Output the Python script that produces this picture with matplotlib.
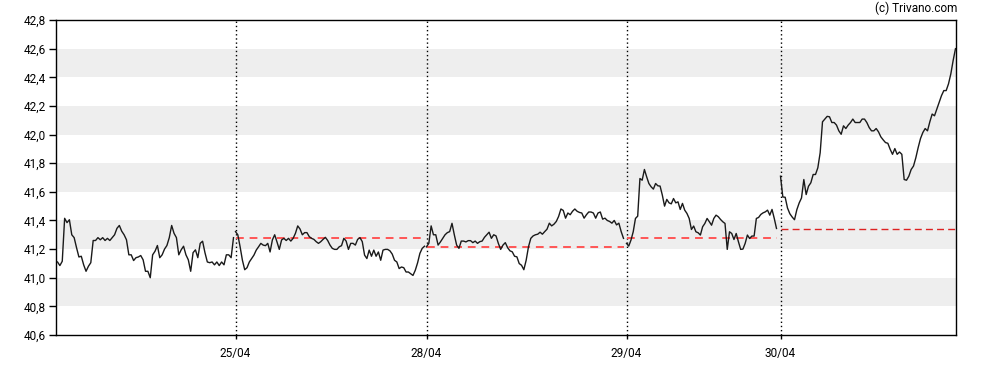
import numpy as np
import matplotlib.pyplot as plt

plt.rcParams['font.family'] = ['Roboto', 'DejaVu Sans']

# koersen per handelsdag
day1 = [41.11, 41.085, 41.115, 41.415, 41.385, 41.405, 41.30, 41.28, 41.21, 41.145,
        41.15, 41.09, 41.045, 41.08, 41.105, 41.26, 41.26, 41.28, 41.265, 41.28,
        41.26, 41.275, 41.26, 41.28, 41.30, 41.345, 41.365, 41.325, 41.30, 41.265,
        41.16, 41.16, 41.12, 41.14, 41.145, 41.155, 41.125, 41.045, 41.045, 41.0,
        41.16, 41.185, 41.225, 41.14, 41.16, 41.20, 41.225, 41.28, 41.365, 41.31,
        41.28, 41.16, 41.195, 41.22, 41.16, 41.125, 41.045, 41.175, 41.195, 41.14,
        41.24, 41.255, 41.175, 41.11, 41.105, 41.11, 41.09, 41.11, 41.085, 41.11,
        41.09, 41.16, 41.16, 41.14, 41.28]
day2 = [41.322, 41.30, 41.216, 41.122, 41.056, 41.07, 41.11, 41.134, 41.158, 41.193,
        41.216, 41.24, 41.228, 41.224, 41.24, 41.18, 41.264, 41.30, 41.25, 41.198,
        41.264, 41.275, 41.26, 41.275, 41.256, 41.275, 41.31, 41.362, 41.34, 41.30,
        41.315, 41.315, 41.287, 41.275, 41.268, 41.252, 41.24, 41.252, 41.268, 41.282,
        41.26, 41.228, 41.205, 41.198, 41.198, 41.216, 41.224, 41.275, 41.256, 41.198,
        41.24, 41.24, 41.228, 41.268, 41.28, 41.252, 41.158, 41.134, 41.193, 41.15,
        41.193, 41.15, 41.18, 41.122, 41.193, 41.198, 41.198, 41.188, 41.165, 41.122,
        41.11, 41.064, 41.075, 41.07, 41.04, 41.04, 41.028, 41.016, 41.052, 41.104,
        41.17, 41.205, 41.22]
day3 = [41.216, 41.24, 41.362, 41.30, 41.30, 41.228, 41.25, 41.275, 41.30, 41.315,
        41.322, 41.38, 41.30, 41.228, 41.205, 41.256, 41.256, 41.25, 41.259, 41.259,
        41.245, 41.256, 41.24, 41.252, 41.256, 41.282, 41.30, 41.318, 41.275, 41.30,
        41.292, 41.24, 41.198, 41.228, 41.245, 41.21, 41.188, 41.181, 41.15, 41.146,
        41.099, 41.087, 41.056, 41.122, 41.216, 41.275, 41.292, 41.30, 41.304, 41.318,
        41.304, 41.322, 41.339, 41.381, 41.362, 41.374, 41.393, 41.428, 41.48, 41.47,
        41.416, 41.452, 41.44, 41.464, 41.48, 41.464, 41.456, 41.452, 41.416, 41.44,
        41.459, 41.459, 41.452, 41.416, 41.452, 41.459, 41.409, 41.416, 41.40, 41.393,
        41.381, 41.40, 41.369, 41.381, 41.322, 41.275]
day4 = [41.24, 41.221, 41.263, 41.321, 41.414, 41.43, 41.693, 41.681, 41.756, 41.705,
        41.658, 41.635, 41.619, 41.658, 41.642, 41.64, 41.577, 41.50, 41.547, 41.523,
        41.516, 41.553, 41.523, 41.53, 41.477, 41.519, 41.472, 41.449, 41.414, 41.337,
        41.361, 41.321, 41.314, 41.298, 41.356, 41.379, 41.414, 41.391, 41.367, 41.414,
        41.437, 41.426, 41.407, 41.391, 41.379, 41.198, 41.321, 41.309, 41.267, 41.309,
        41.251, 41.198, 41.20, 41.24, 41.298, 41.274, 41.291, 41.291, 41.414, 41.421,
        41.442, 41.453, 41.46, 41.472, 41.437, 41.477, 41.414, 41.344]
day5 = [41.709, 41.564, 41.562, 41.487, 41.447, 41.424, 41.405, 41.475, 41.522, 41.557,
        41.686, 41.581, 41.639, 41.663, 41.721, 41.721, 41.768, 41.873, 42.089, 42.108,
        42.127, 42.124, 42.084, 42.084, 42.066, 42.026, 42.002, 42.061, 42.042, 42.066,
        42.084, 42.108, 42.084, 42.084, 42.084, 42.108, 42.108, 42.084, 42.049, 42.026,
        42.026, 42.042, 42.019, 41.984, 41.963, 41.944, 41.939, 41.897, 41.862, 41.902,
        41.862, 41.878, 41.862, 41.686, 41.681, 41.709, 41.756, 41.78, 41.838, 41.909,
        41.972, 42.014, 42.042, 42.026, 42.089, 42.143, 42.131, 42.178, 42.225, 42.272,
        42.307, 42.307, 42.354, 42.424, 42.518, 42.6]
days = [day1, day2, day3, day4, day5]

# sessies in "bar"-eenheden
sessions = [(2, 178), (180, 369), (371, 568), (571, 721), (725, 900)]
day_labels = ['25/04', '28/04', '29/04', '30/04']
prev_close = [41.28, 41.216, 41.279, 41.34]   # slotkoers vorige dag

yticks = np.round(np.arange(40.6, 42.81, 0.2), 1)

fig = plt.figure(figsize=(9.88, 3.70), dpi=100)
ax = fig.add_axes([55.5 / 988, 35 / 370, 900 / 988, 315 / 370])

# grijze banden
for lo in [40.8, 41.2, 41.6, 42.0, 42.4]:
    ax.axhspan(lo, lo + 0.2, color='#eeeeee', lw=0, zorder=0)

for d, (s, e) in zip(days, sessions):
    x = np.linspace(s, e, len(d))
    ax.plot(x, d, color='#1a1a1a', lw=1.0, zorder=3)

# dag-scheidingen
starts = [s for s, e in sessions[1:]]
for xs in starts:
    ax.axvline(xs, color='black', ls=(0, (1, 2)), lw=1.0, zorder=2)

# vorige slotkoers
for i, pc in enumerate(prev_close):
    s, e = sessions[i + 1]
    if i < 3:
        ax.plot([s, e], [pc, pc], color='#ff5555', ls=(0, (4, 3)), lw=1.4, zorder=2)
    else:
        ax.plot([s, e], [pc, pc], color='#dd2222', ls=(0, (5, 3)), lw=1.0, zorder=2)

ax.set_xlim(0, 900)
ax.set_ylim(40.6, 42.8)
ax.set_yticks(yticks)
ax.set_yticklabels([f'{v:.1f}'.replace('.', ',') for v in yticks], fontsize=8.5)
ax.set_xticks(starts)
ax.set_xticklabels(day_labels, fontsize=8.5)
ax.tick_params(axis='y', length=5, width=1, pad=2)
ax.tick_params(axis='x', length=3, width=1, pad=6)
for sp in ax.spines.values():
    sp.set_color('black')
    sp.set_linewidth(1)

fig.text(957 / 988, 1 - 8 / 370, '(c) Trivano.com', ha='right', va='center', fontsize=8.5)

fig.savefig('out.png', dpi=100)
